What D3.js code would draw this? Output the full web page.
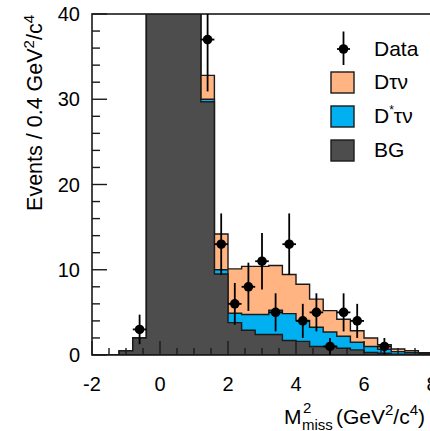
<!DOCTYPE html>
<html>
<head>
<meta charset="utf-8">
<script src="https://cdn.jsdelivr.net/npm/d3@7"></script>
<style>
  body { margin: 0; background: #fff; }
  svg { display: block; }
  text { font-family: "Liberation Sans", Arial, Helvetica, sans-serif; fill: #000; }
</style>
</head>
<body>
<svg id="chart" width="430" height="431"></svg>
<script>
// Missing-mass-squared histogram: stacked fit components with data points.
const binLow = [-2.0, -1.6, -1.2, -0.8, -0.4, 0.0, 0.4, 0.8, 1.2, 1.6, 2.0, 2.4, 2.8,
                3.2, 3.6, 4.0, 4.4, 4.8, 5.2, 5.6, 6.0, 6.4, 6.8, 7.2, 7.6];
const binWidth = 0.4;

// Background component (peak bins run off the top of the frame)
const bgCounts = [0, 0, 0.5, 2.0, 52, 118, 126, 64, 29.7, 9.5, 3.8, 2.9, 2.4,
                  2.4, 1.7, 1.6, 1.0, 1.0, 0.8, 0.6, 0.3, 0.2, 0.1, 0.05, 0.03];
// D* tau nu component
const dstarTauNuCounts = [0, 0, 0, 0, 0.1, 0.2, 0.3, 0.3, 0.3, 0.5, 1.1, 1.85, 2.35,
                          2.85, 3.15, 2.45, 2.25, 1.7, 1.4, 0.9, 0.7, 0.47, 0.3, 0.22, 0.12];
// D tau nu component
const dTauNuCounts = [0, 0, 0, 0, 0.5, 1.0, 1.5, 1.8, 2.8, 4.2, 5.2, 5.65, 5.65,
                      5.25, 4.6, 4.25, 3.3, 2.5, 2.0, 1.35, 1.0, 0.53, 0.3, 0.23, 0.13];
// Observed events per bin
const dataCounts = [0, 0, 0, 3, 55, 121, 119, 68, 37, 13, 6, 8, 11,
                    5, 13, 4, 5, 1, 5, 4, 0, 1, 0, 0, 0];

const xTickLabels = [-2, 0, 2, 4, 6, 8];
const yTickLabels = [0, 10, 20, 30, 40];

const legendItems = ["Data", "Dτν", "D*τν", "BG"];
const colors = { dtau: "#ffb482", dstar: "#00b0f0", bg: "#4d4d4d" };

const svg = d3.select("#chart");
const x = d3.scaleLinear().domain([-2, 8]).range([92, 432]);
const y = d3.scaleLinear().domain([0, 40]).range([355, 14]);

svg.append("clipPath").attr("id", "plotClip")
  .append("rect")
  .attr("x", x(-2)).attr("y", y(40))
  .attr("width", x(8) - x(-2)).attr("height", y(0) - y(40));

// cumulative stack levels
const lvlBG = bgCounts.slice();
const lvlDstar = bgCounts.map((v, i) => v + dstarTauNuCounts[i]);
const lvlTotal = lvlDstar.map((v, i) => v + dTauNuCounts[i]);

function stepPoints(levels) {
  const pts = binLow.map((lo, i) => ({ e: lo, v: levels[i] }));
  pts.push({ e: binLow[binLow.length - 1] + binWidth, v: levels[levels.length - 1] });
  return pts;
}
const area = d3.area()
  .x(d => x(d.e)).y0(y(0)).y1(d => y(d.v))
  .curve(d3.curveStepAfter);

const hist = svg.append("g").attr("clip-path", "url(#plotClip)");
[[lvlTotal, colors.dtau], [lvlDstar, colors.dstar], [lvlBG, colors.bg]].forEach(([lv, c]) => {
  hist.append("path")
    .attr("d", area(stepPoints(lv)))
    .attr("fill", c)
    .attr("stroke", "#1a1a1a")
    .attr("stroke-width", 1.4)
    .attr("stroke-linejoin", "miter");
});

// frame
const axisG = svg.append("g");
axisG.append("rect")
  .attr("x", x(-2)).attr("y", y(40))
  .attr("width", x(8) - x(-2)).attr("height", y(0) - y(40))
  .attr("fill", "none").attr("stroke", "#1a1a1a").attr("stroke-width", 1.6);

// y ticks (inside)
y.ticks(20).forEach(t => {
  const major = yTickLabels.includes(t);
  axisG.append("line")
    .attr("x1", x(-2)).attr("x2", x(-2) + (major ? 15 : 8))
    .attr("y1", y(t)).attr("y2", y(t))
    .attr("stroke", "#1a1a1a").attr("stroke-width", 1.4);
});
// x ticks (inside)
x.ticks(20).forEach(t => {
  const major = xTickLabels.includes(t);
  axisG.append("line")
    .attr("x1", x(t)).attr("x2", x(t))
    .attr("y1", y(0)).attr("y2", y(0) - (major ? 14 : 7))
    .attr("stroke", "#1a1a1a").attr("stroke-width", 1.4);
});

yTickLabels.forEach(t => {
  svg.append("text")
    .attr("x", 80).attr("y", y(t) + 7)
    .attr("text-anchor", "end").attr("font-size", 20)
    .text(t);
});
xTickLabels.forEach(t => {
  svg.append("text")
    .attr("x", x(t)).attr("y", 391)
    .attr("text-anchor", "middle").attr("font-size", 20)
    .text(t);
});

// y-axis title
const yt = svg.append("text")
  .attr("transform", "translate(42,15) rotate(-90)")
  .attr("text-anchor", "end").attr("font-size", 21.5);
yt.append("tspan").text("Events / 0.4 GeV");
yt.append("tspan").attr("font-size", 15).attr("dy", -8).text("2");
yt.append("tspan").attr("dy", 8).text("/c");
yt.append("tspan").attr("font-size", 15).attr("dy", -8).text("4");

// x-axis title
svg.append("text").attr("x", 284).attr("y", 424).attr("font-size", 21).text("M");
svg.append("text").attr("x", 303).attr("y", 413).attr("font-size", 15).text("2");
svg.append("text").attr("x", 302).attr("y", 430).attr("font-size", 15).text("miss");
const xt = svg.append("text").attr("x", 336).attr("y", 424).attr("font-size", 21);
xt.append("tspan").text("(GeV");
xt.append("tspan").attr("font-size", 15).attr("dy", -9).text("2");
xt.append("tspan").attr("dy", 9).text("/c");
xt.append("tspan").attr("font-size", 15).attr("dy", -9).text("4");
xt.append("tspan").attr("dy", 9).text(")");

// data points with Poisson errors
const pts = svg.append("g").attr("clip-path", "url(#plotClip)");
dataCounts.forEach((n, i) => {
  if (n <= 0) return;
  const cx = x(binLow[i] + binWidth / 2);
  const err = Math.sqrt(n);
  pts.append("line")
    .attr("x1", cx).attr("x2", cx)
    .attr("y1", y(n - err)).attr("y2", y(n + err))
    .attr("stroke", "#000").attr("stroke-width", 1.8);
  pts.append("line")
    .attr("x1", x(binLow[i])).attr("x2", x(binLow[i] + binWidth))
    .attr("y1", y(n)).attr("y2", y(n))
    .attr("stroke", "#000").attr("stroke-width", 1.8);
  pts.append("circle").attr("cx", cx).attr("cy", y(n)).attr("r", 4.8).attr("fill", "#000");
});

// legend
const lg = svg.append("g");
lg.append("line").attr("x1", 343.5).attr("x2", 343.5).attr("y1", 31.5).attr("y2", 65)
  .attr("stroke", "#000").attr("stroke-width", 1.8);
lg.append("line").attr("x1", 337).attr("x2", 350).attr("y1", 49).attr("y2", 49)
  .attr("stroke", "#000").attr("stroke-width", 1.8);
lg.append("circle").attr("cx", 343.5).attr("cy", 49).attr("r", 4.8).attr("fill", "#000");

const boxes = [[colors.dtau, 72], [colors.dstar, 106], [colors.bg, 140]];
boxes.forEach(([c, top]) => {
  lg.append("rect").attr("x", 331).attr("y", top).attr("width", 23).attr("height", 21)
    .attr("fill", c).attr("stroke", "#1a1a1a").attr("stroke-width", 1.4);
});
const labelY = [56, 89, 123, 157];
lg.append("text").attr("x", 374).attr("y", labelY[0]).attr("font-size", 21).text(legendItems[0]);
lg.append("text").attr("x", 374).attr("y", labelY[1]).attr("font-size", 21).text(legendItems[1]);
const ds = lg.append("text").attr("x", 374).attr("y", labelY[2]).attr("font-size", 21);
ds.append("tspan").text("D");
ds.append("tspan").attr("font-size", 12).attr("dy", -9).text("*");
ds.append("tspan").attr("dy", 9).text("τν");
lg.append("text").attr("x", 374).attr("y", labelY[3]).attr("font-size", 21).text(legendItems[3]);
</script>
</body>
</html>
